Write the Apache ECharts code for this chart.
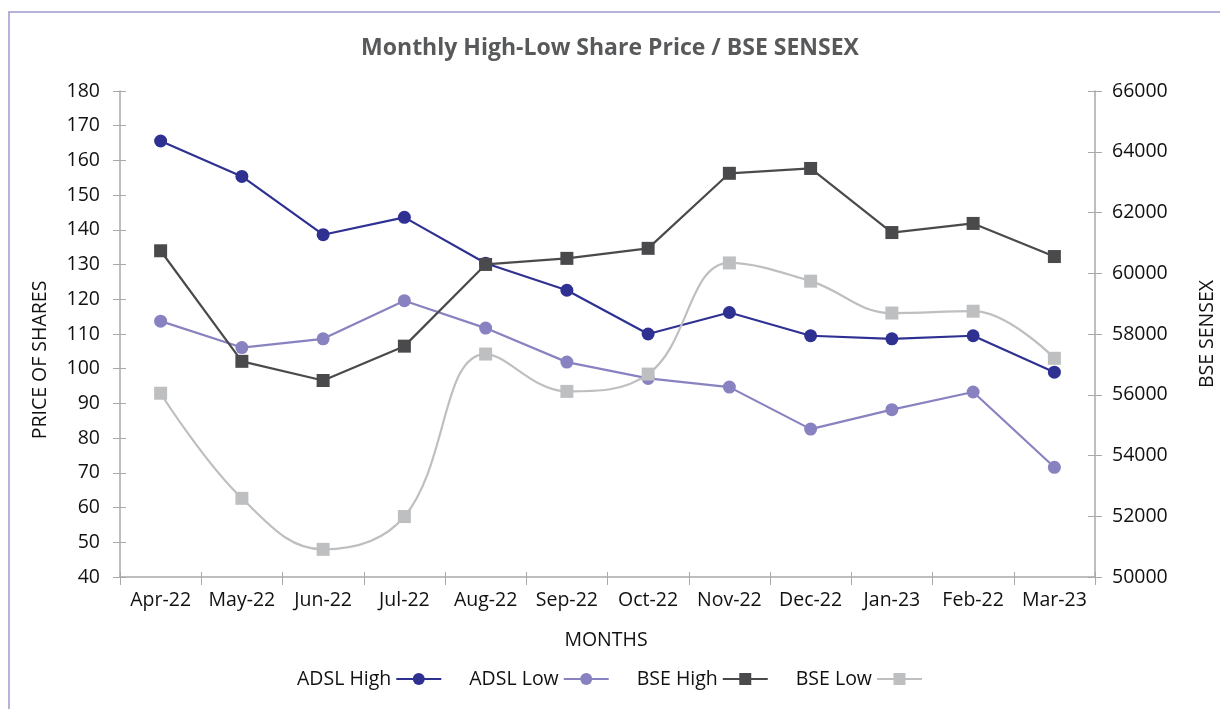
<!DOCTYPE html>
<html>
<head>
<meta charset="utf-8">
<script src="https://cdn.jsdelivr.net/npm/echarts@6/dist/echarts.min.js"></script>
<style>
  html, body { margin: 0; padding: 0; background: #fff; }
  #chart { width: 1220px; height: 709px; }
</style>
</head>
<body>
<div id="chart"></div>
<script>
// data
var months = ["Apr-22", "May-22", "Jun-22", "Jul-22", "Aug-22", "Sep-22",
  "Oct-22", "Nov-22", "Dec-22", "Jan-23", "Feb-22", "Mar-23"];
var adslHigh = [165.6, 155.4, 138.6, 143.6, 130.4, 122.6, 110.0, 116.2, 109.5, 108.6, 109.5, 99.0];
var adslLow = [113.7, 106.1, 108.6, 119.6, 111.7, 101.9, 97.2, 94.7, 82.6, 88.2, 93.3, 71.6];
var bseHigh = [60740, 57100, 56470, 57600, 60290, 60490, 60820, 63290, 63450, 61340, 61640, 60550];
var bseLow = [56050, 52590, 50910, 51990, 57340, 56110, 56680, 60340, 59740, 58690, 58750, 57200];

var font = "Open Sans";
var fs = 19.5;
var axisColor = "#a7a9ac";
var textColor = "#111";

var chart = echarts.init(document.getElementById("chart"));

// thin extra axes give the inner half of ticks that cross the axis line
function tickAxis(base, extra, len) {
  return Object.assign({
    axisLine: { show: false },
    axisLabel: { show: false },
    splitLine: { show: false },
    axisTick: { show: true, inside: true, interval: 0, length: len, lineStyle: { color: axisColor } }
  }, base, extra);
}

var leftBase = { type: "value", min: 40, max: 180, interval: 10 };
var rightBase = { type: "value", min: 50000, max: 66000, interval: 2000 };

function axisName(text, x, y, rot) {
  return {
    type: "text", x: x, y: y, rotation: rot,
    style: {
      text: text, fontFamily: font, fontSize: fs, fill: textColor,
      align: "center", verticalAlign: "middle"
    }
  };
}

var option = {
  animation: false,
  textStyle: { fontFamily: font },
  title: {
    text: "Monthly High-Low Share Price / BSE SENSEX",
    left: "center",
    top: 32,
    textStyle: { fontFamily: font, fontSize: 23, fontWeight: "bold", color: "#58595b" }
  },
  legend: {
    data: ["ADSL High", "ADSL Low", "BSE High", "BSE Low"],
    left: "center",
    top: 664,
    align: "right",
    itemWidth: 45,
    itemHeight: 15,
    itemGap: 27,
    textStyle: { fontFamily: font, fontSize: fs, color: textColor }
  },
  grid: { left: 120, right: 125, top: 91, bottom: 132 },
  xAxis: [
    {
      type: "category",
      data: months,
      axisLine: { lineStyle: { color: axisColor, width: 1.5 } },
      axisTick: { show: true, interval: 0, length: 8, lineStyle: { color: axisColor } },
      axisLabel: { fontFamily: font, fontSize: fs, color: textColor, margin: 13, interval: 0 }
    },
    tickAxis({ type: "category", data: months, position: "bottom" }, {}, 5)
  ],
  yAxis: [
    Object.assign({}, leftBase, {
      position: "left",
      axisLine: { show: true, lineStyle: { color: axisColor, width: 1.5 } },
      axisTick: { show: true, length: 7, lineStyle: { color: axisColor } },
      axisLabel: { fontFamily: font, fontSize: fs, color: textColor, margin: 20 },
      splitLine: { show: false }
    }),
    Object.assign({}, rightBase, {
      position: "right",
      axisLine: { show: true, lineStyle: { color: axisColor, width: 1.5 } },
      axisTick: { show: true, length: 7, lineStyle: { color: axisColor } },
      axisLabel: {
        fontFamily: font, fontSize: fs, color: textColor, margin: 17,
        formatter: function (v) { return String(v); }
      },
      splitLine: { show: false }
    }),
    tickAxis(leftBase, { position: "left" }, 6),
    tickAxis(rightBase, { position: "right" }, 7)
  ],
  graphic: [
    {
      type: "polyline",
      shape: { points: [[9, 709], [9, 12], [1220, 12]] },
      style: { stroke: "#9d9bd0", lineWidth: 1.5, fill: null }
    },
    axisName("PRICE OF SHARES", 40, 360, Math.PI / 2),
    axisName("BSE SENSEX", 1207, 334, Math.PI / 2),
    axisName("MONTHS", 606, 640, 0)
  ],
  series: [
    {
      name: "ADSL High", type: "line", data: adslHigh, yAxisIndex: 0,
      symbol: "circle", symbolSize: 13,
      lineStyle: { color: "#2e3192", width: 2.2 },
      itemStyle: { color: "#2e3192" }
    },
    {
      name: "ADSL Low", type: "line", data: adslLow, yAxisIndex: 0,
      symbol: "circle", symbolSize: 13,
      lineStyle: { color: "#8882c0", width: 2.2 },
      itemStyle: { color: "#8882c0" }
    },
    {
      name: "BSE High", type: "line", data: bseHigh, yAxisIndex: 1,
      symbol: "rect", symbolSize: 13,
      lineStyle: { color: "#4a4a4c", width: 2.2 },
      itemStyle: { color: "#4a4a4c" }
    },
    {
      name: "BSE Low", type: "line", data: bseLow, yAxisIndex: 1,
      symbol: "rect", symbolSize: 13, smooth: 0.4,
      lineStyle: { color: "#bebfc1", width: 2.2 },
      itemStyle: { color: "#bebfc1" }
    }
  ]
};

chart.setOption(option);
</script>
</body>
</html>
